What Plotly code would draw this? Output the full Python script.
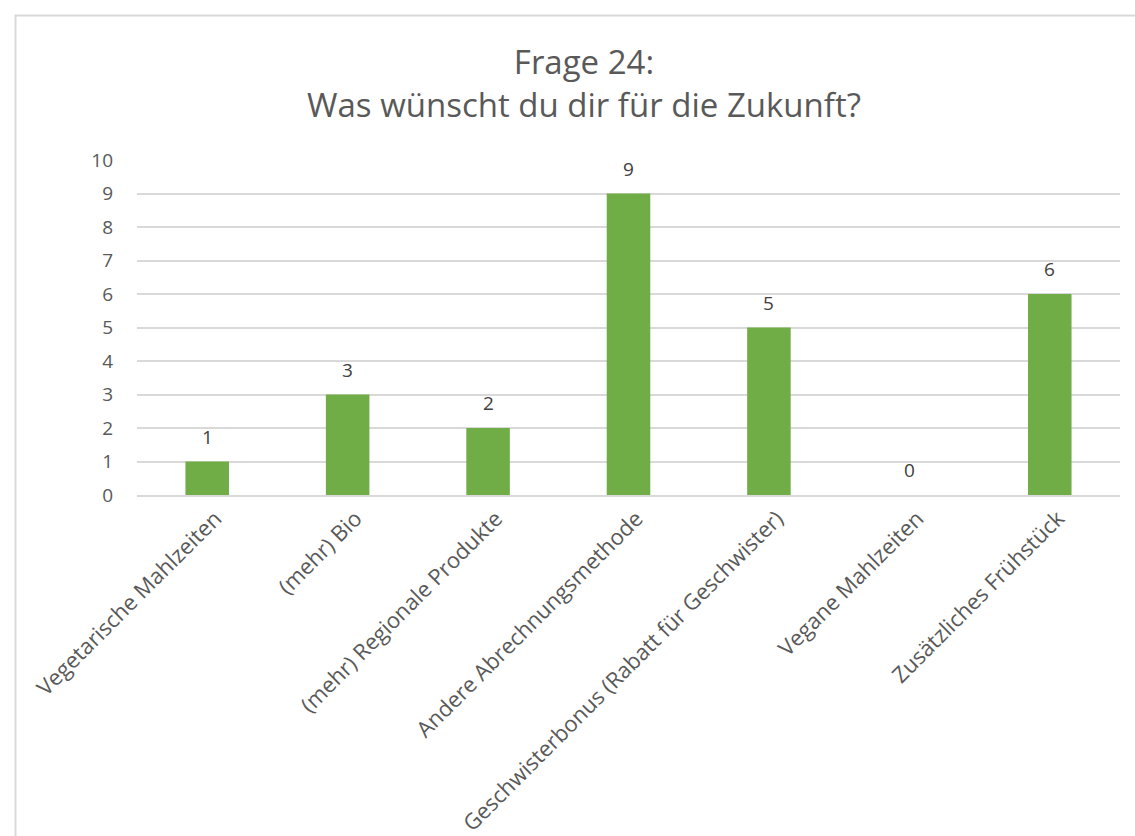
import plotly.graph_objects as go

categories = [
    "Vegetarische Mahlzeiten",
    "(mehr) Bio",
    "(mehr) Regionale Produkte",
    "Andere Abrechnungsmethode",
    "Geschwisterbonus (Rabatt für Geschwister)",
    "Vegane Mahlzeiten",
    "Zusätzliches Frühstück",
]
values = [1, 3, 2, 9, 5, 0, 6]
y_ticks = list(range(0, 11))

W, H = 1135, 836
L, R, T, B = 137, 15, 160, 341

FONT = "Open Sans"
TXT = "#595959"

fig = go.Figure()
fig.add_trace(go.Bar(
    x=categories, y=values,
    marker=dict(color="#70AD47", line=dict(width=0)),
    hoverinfo="x+y",
))

for c, v in zip(categories, values):
    fig.add_annotation(x=c, y=v, text=str(v), showarrow=False,
                       yshift=25, xref="x", yref="y",
                       font=dict(family=FONT, size=19, color="#404040"))

pw = W - L - R
ph = H - T - B
def px_x(p):
    return (p - L) / pw
def px_y(p):
    return (H - B - p) / ph

fig.add_shape(type="rect", xref="paper", yref="paper",
              x0=px_x(15.5), x1=px_x(1160), y0=px_y(870), y1=px_y(15.5),
              line=dict(color="#D9D9D9", width=2), fillcolor="rgba(0,0,0,0)", layer="below")

fig.update_layout(
    width=W, height=H,
    margin=dict(l=L, r=R, t=T, b=B, autoexpand=False),
    paper_bgcolor="white", plot_bgcolor="white",
    bargap=0.69,
    showlegend=False,
    title=dict(
        text="Frage 24:<br>Was wünscht du dir für die Zukunft?",
        x=584 / W, xref="container", xanchor="center",
        y=1 - 74 / H, yref="container", yanchor="middle",
        font=dict(family=FONT, size=33, color=TXT),
    ),
    font=dict(family=FONT, color=TXT),
)
fig.update_xaxes(
    tickangle=-45,
    tickfont=dict(family=FONT, size=22, color=TXT),
    showgrid=False, showline=True, linecolor="#D9D9D9", linewidth=2,
    ticks="", automargin=False, ticklabelshift=8,
)
fig.update_yaxes(
    range=[0, 10],
    tickvals=y_ticks,
    tickfont=dict(family=FONT, size=19, color=TXT),
    showgrid=True, gridcolor="#D9D9D9", gridwidth=2,
    zeroline=False, showline=False, ticks="", ticklabelstandoff=23,
    automargin=False,
)

fig.write_html("out.html", config={"displayModeBar": False},
               post_script="document.body.style.margin='0';document.body.style.overflow='hidden';")
